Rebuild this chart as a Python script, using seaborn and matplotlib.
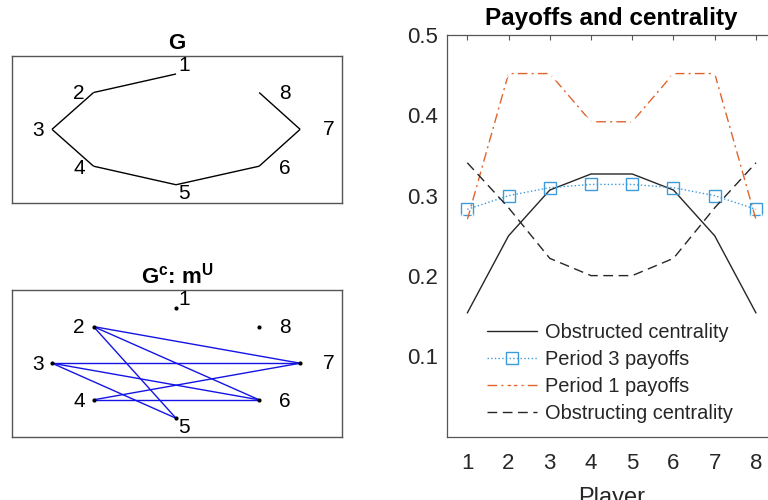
import numpy as np
import pandas as pd
import matplotlib
matplotlib.use("Agg")
import matplotlib.pyplot as plt
import seaborn as sns

# ---------------- data ----------------
players = [1, 2, 3, 4, 5, 6, 7, 8]
obstructed_centrality = [0.154, 0.250, 0.307, 0.327, 0.327, 0.307, 0.250, 0.154]
period3_payoffs = [0.283, 0.300, 0.310, 0.314, 0.314, 0.310, 0.300, 0.283]
period1_payoffs = [0.270, 0.452, 0.452, 0.392, 0.392, 0.452, 0.452, 0.270]
obstructing_centrality = [0.341, 0.285, 0.222, 0.2005, 0.2005, 0.222, 0.285, 0.341]
series_names = ["Obstructed centrality", "Period 3 payoffs",
                "Period 1 payoffs", "Obstructing centrality"]
y_ticks = [0.1, 0.2, 0.3, 0.4, 0.5]

node_labels = ["1", "2", "3", "4", "5", "6", "7", "8"]
edges_G = [(1, 2), (2, 3), (3, 4), (4, 5), (5, 6), (6, 7), (7, 8)]
edges_mU = [(2, 7), (2, 6), (2, 5), (3, 7), (3, 6), (3, 5), (4, 7), (4, 6)]

# ---------------- layout (node drawing positions) ----------------
node_x = [0.0, -0.665, -1.0, -0.665, 0.0, 0.67, 1.0, 0.67]
node_y = [1.0, 0.665, 0.0, -0.665, -1.0, -0.665, 0.0, 0.665]
label_x = [0.016, -0.83, -1.16, -0.83, 0.016, 0.83, 1.18, 0.83]
label_y = [1.15, 0.64, -0.02, -0.70, -1.16, -0.70, -0.01, 0.64]

sns.set_theme(style="white")
plt.rcParams["font.family"] = ["Liberation Sans", "DejaVu Sans"]
plt.rcParams["mathtext.fontset"] = "custom"
plt.rcParams["mathtext.rm"] = "Liberation Sans"
plt.rcParams["mathtext.bf"] = "Liberation Sans:bold"

fig = plt.figure(figsize=(7.68, 5.00), dpi=100)
txt = "#262626"
spine_c = "#555555"

# ---------------- graph panels ----------------
def graph_panel(rect, title, edges, color, dots):
    ax = fig.add_axes(rect)
    ax.set_xlim(-1.325, 1.34)
    ax.set_ylim(-1.335, 1.33)
    for a, b in edges:
        ax.plot([node_x[a - 1], node_x[b - 1]], [node_y[a - 1], node_y[b - 1]],
                color=color, lw=1.0, solid_capstyle="butt")
    if dots:
        sns.scatterplot(x=node_x, y=node_y, ax=ax, color="black", s=9,
                        linewidth=0, zorder=3)
    for i, lab in enumerate(node_labels):
        ax.text(label_x[i], label_y[i], lab, fontsize=15, color="black",
                ha="left", va="center")
    ax.set_xticks([])
    ax.set_yticks([])
    for s in ax.spines.values():
        s.set_color(spine_c)
        s.set_linewidth(1.0)
    ax.set_title(title, fontsize=16, fontweight="bold", color="black", pad=5)
    return ax

graph_panel([0.0152, 0.5934, 0.4305, 0.2952], "G", edges_G, "black", False)
graph_panel([0.0152, 0.1266, 0.4305, 0.2934],
            r"G$^{\mathbf{c}}$: m$^{\mathbf{U}}$", edges_mU, "#1414E6", True)

# ---------------- line chart ----------------
ax = fig.add_axes([0.5816, 0.1266, 0.4296, 0.8034])
df = pd.DataFrame({
    "Player": players * 4,
    "value": obstructed_centrality + period3_payoffs + period1_payoffs + obstructing_centrality,
    "series": sum([[n] * len(players) for n in series_names], []),
})
styles = {
    "Obstructed centrality": dict(color="#262626", linestyle="-", marker=None),
    "Period 3 payoffs": dict(color="#3D9BDB", linestyle=":", marker="s",
                             markersize=8, markerfacecolor="none",
                             markeredgecolor="#3D9BDB", markeredgewidth=1.0),
    "Period 1 payoffs": dict(color="#E0642E", linestyle=(0, (7, 3, 1.5, 3)), marker="x",
                             markersize=8.5, markeredgewidth=0.9),
    "Obstructing centrality": dict(color="#262626", linestyle=(0, (7, 4)), marker=None),
}
for name in series_names:
    sub = df[df["series"] == name]
    sns.lineplot(data=sub, x="Player", y="value", ax=ax, label=name,
                 lw=1.0, **styles[name])

ax.set_xlim(0.5, 8.5)
ax.set_ylim(0, 0.5)
ax.set_xticks(players)
ax.set_yticks(y_ticks)
ax.set_yticklabels([f"{v:.1f}" for v in y_ticks])
ax.tick_params(direction="in", length=3.5, width=0.8, colors=spine_c,
               labelcolor=txt, labelsize=16, top=True, right=True)
ax.tick_params(axis="x", pad=12)
ax.tick_params(axis="y", pad=6)
for s in ax.spines.values():
    s.set_color(spine_c)
    s.set_linewidth(0.9)
ax.set_xlabel("Player", fontsize=17, color=txt, labelpad=9)
ax.set_ylabel("")
ax.set_title("Payoffs and centrality", fontsize=17.5, fontweight="bold",
             color="black", pad=7)
ax.legend(loc="upper left", bbox_to_anchor=(0.122, 0.283), frameon=False,
          fontsize=14.4, handlelength=2.5, handletextpad=0.4,
          labelspacing=0.4, borderpad=0, borderaxespad=0)

fig.savefig("out.png", dpi=100)
